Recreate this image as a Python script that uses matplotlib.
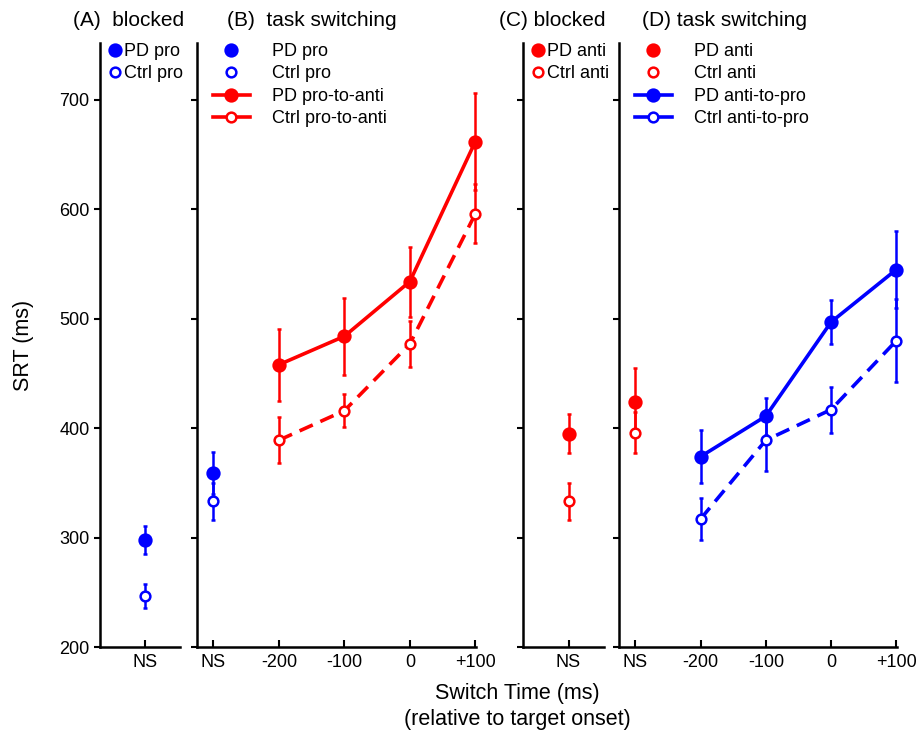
import numpy as np
import matplotlib.pyplot as plt
from matplotlib.lines import Line2D

plt.rcParams['font.family'] = ['Liberation Sans', 'DejaVu Sans']

BLUE = '#0000ff'
RED = '#ff0000'

# ---- data (SRT in ms) ----
switch_times = [-200, -100, 0, 100]
ns_x = -300                      # NS drawn one step left of -200
tick_pos = [-300, -200, -100, 0, 100]
tick_labels = ['NS', '-200', '-100', '0', '+100']

# (A) blocked pro
pd_pro_blk, pd_pro_blk_err = 298, 13
ctrl_pro_blk, ctrl_pro_blk_err = 247, 11

# (B) task switching: NS pro and pro-to-anti
pd_pro_ns, pd_pro_ns_err = 359, 19
ctrl_pro_ns, ctrl_pro_ns_err = 333, 17
pd_pro2anti = [458, 484, 534, 662]
pd_pro2anti_err = [33, 35, 32, 44]
ctrl_pro2anti = [389, 416, 477, 596]
ctrl_pro2anti_err = [21, 15, 21, 27]

# (C) blocked anti
pd_anti_blk, pd_anti_blk_err = 395, 18
ctrl_anti_blk, ctrl_anti_blk_err = 333, 17

# (D) task switching: NS anti and anti-to-pro
pd_anti_ns, pd_anti_ns_err = 424, 31
ctrl_anti_ns, ctrl_anti_ns_err = 396, 19
pd_anti2pro = [374, 411, 497, 545]
pd_anti2pro_err = [24, 17, 20, 35]
ctrl_anti2pro = [317, 389, 417, 480]
ctrl_anti2pro_err = [19, 28, 21, 38]

FS = 13
MS_F = 8.5
MS_O = 7
DASH = (4, 2.3)


def point(ax, x, y, err, color, filled, **kw):
    fc = color if filled else 'white'
    ms = MS_F if filled else MS_O
    ax.errorbar(x, y, yerr=err, color=color, marker='o', ms=ms, mfc=fc,
                mec=color, mew=1.8, elinewidth=1.8, capsize=1.5,
                capthick=1.5, **kw)


def style(ax, labels=False):
    for s in ['top', 'right']:
        ax.spines[s].set_visible(False)
    for s in ['left', 'bottom']:
        ax.spines[s].set_linewidth(1.8)
    ax.set_ylim(200, 752)
    ax.set_yticks([200, 300, 400, 500, 600, 700])
    ax.tick_params(axis='y', direction='out', length=4, width=1.5,
                   labelsize=FS, labelleft=labels)
    ax.tick_params(axis='x', direction='in', length=5, width=1.5,
                   labelsize=FS, pad=5)
    for art in ax.get_children():
        if hasattr(art, 'set_clip_on'):
            art.set_clip_on(False)


def marker_handle(color, filled, ls='none'):
    return Line2D([], [], color=color, marker='o', ls=ls, lw=2.6,
                  ms=MS_F if filled else MS_O,
                  mfc=color if filled else 'white', mec=color, mew=1.8)


def small_legend(ax, handles, labels):
    ax.legend(handles=handles, labels=labels, loc='upper left',
              bbox_to_anchor=(0.1, 1.0), frameon=False, fontsize=FS,
              handlelength=0.75, handletextpad=0.12, labelspacing=0.3,
              borderpad=0, borderaxespad=0)


def big_legend(ax, handles, labels):
    ax.legend(handles=handles, labels=labels, loc='upper left',
              bbox_to_anchor=(0.057, 1.0), frameon=False, fontsize=FS,
              handlelength=2.05, handletextpad=1.2, labelspacing=0.3,
              borderpad=0, borderaxespad=0)


fig = plt.figure(figsize=(9.17, 7.33), dpi=100)
bot, h = 0.1173, 0.824
axA = fig.add_axes([0.109, bot, 0.0872, h])
axB = fig.add_axes([0.2148, bot, 0.3043, h])
axC = fig.add_axes([0.5703, bot, 0.0883, h])
axD = fig.add_axes([0.675, bot, 0.3032, h])

# (A)
point(axA, 0, pd_pro_blk, pd_pro_blk_err, BLUE, True)
point(axA, 0, ctrl_pro_blk, ctrl_pro_blk_err, BLUE, False)
axA.set_xlim(-0.9, 0.7)
axA.set_xticks([0])
axA.set_xticklabels(['NS'])
small_legend(axA, [marker_handle(BLUE, True), marker_handle(BLUE, False)],
             ['PD pro', 'Ctrl pro'])

# (B)
point(axB, ns_x, pd_pro_ns, pd_pro_ns_err, BLUE, True)
point(axB, ns_x, ctrl_pro_ns, ctrl_pro_ns_err, BLUE, False)
point(axB, switch_times, ctrl_pro2anti, ctrl_pro2anti_err, RED, False,
      ls='--', lw=2.6, dashes=DASH)
point(axB, switch_times, pd_pro2anti, pd_pro2anti_err, RED, True, lw=2.6)
axB.set_xlim(-325, 101)
axB.set_xticks(tick_pos)
axB.set_xticklabels(tick_labels)
big_legend(axB, [marker_handle(BLUE, True), marker_handle(BLUE, False),
                 marker_handle(RED, True, '-'), marker_handle(RED, False, '-')],
           ['PD pro', 'Ctrl pro', 'PD pro-to-anti', 'Ctrl pro-to-anti'])

# (C)
point(axC, 0, pd_anti_blk, pd_anti_blk_err, RED, True)
point(axC, 0, ctrl_anti_blk, ctrl_anti_blk_err, RED, False)
axC.set_xlim(-0.9, 0.7)
axC.set_xticks([0])
axC.set_xticklabels(['NS'])
small_legend(axC, [marker_handle(RED, True), marker_handle(RED, False)],
             ['PD anti', 'Ctrl anti'])

# (D)
point(axD, ns_x, pd_anti_ns, pd_anti_ns_err, RED, True)
point(axD, ns_x, ctrl_anti_ns, ctrl_anti_ns_err, RED, False)
point(axD, switch_times, ctrl_anti2pro, ctrl_anti2pro_err, BLUE, False,
      ls='--', lw=2.6, dashes=DASH)
point(axD, switch_times, pd_anti2pro, pd_anti2pro_err, BLUE, True, lw=2.6)
axD.set_xlim(-325, 101)
axD.set_xticks(tick_pos)
axD.set_xticklabels(tick_labels)
big_legend(axD, [marker_handle(RED, True), marker_handle(RED, False),
                 marker_handle(BLUE, True, '-'), marker_handle(BLUE, False, '-')],
           ['PD anti', 'Ctrl anti', 'PD anti-to-pro', 'Ctrl anti-to-pro'])

style(axA, labels=True)
style(axB)
style(axC)
style(axD)

axA.set_ylabel('SRT (ms)', fontsize=15.5, labelpad=18)

tfs = 15
fig.text(73 / 917, 1 - 20 / 733, '(A)  blocked', fontsize=tfs, va='center')
fig.text(227 / 917, 1 - 20 / 733, '(B)  task switching', fontsize=tfs, va='center')
fig.text(499 / 917, 1 - 20 / 733, '(C) blocked', fontsize=tfs, va='center')
fig.text(642 / 917, 1 - 20 / 733, '(D) task switching', fontsize=tfs, va='center')

fig.text(517 / 917, 1 - 694 / 733, 'Switch Time (ms)', fontsize=15.5,
         ha='center', va='center')
fig.text(517 / 917, 1 - 719 / 733, '(relative to target onset)', fontsize=15.5,
         ha='center', va='center')

fig.savefig('out.png', dpi=100)
